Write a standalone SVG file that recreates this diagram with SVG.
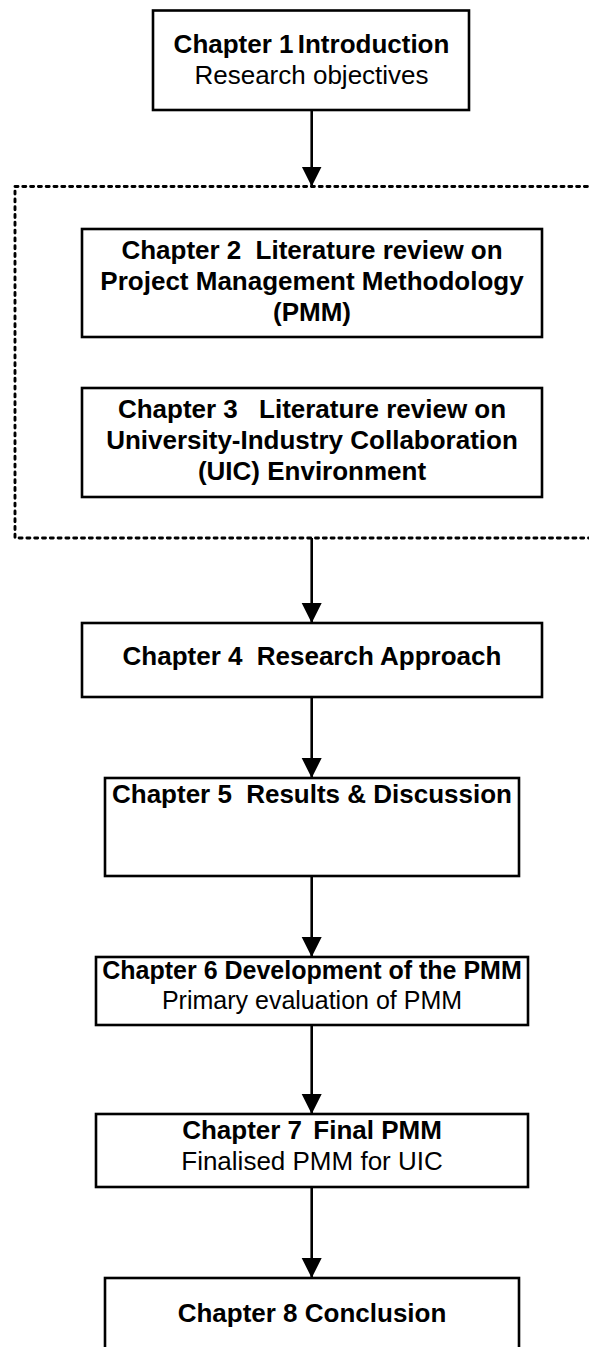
<svg xmlns="http://www.w3.org/2000/svg" width="589" height="1347" viewBox="0 0 589 1347">
  <style>
    .box { fill: #ffffff; stroke: #000000; stroke-width: 2.6; }
    .group { fill: none; stroke: #000000; stroke-width: 2.9; stroke-dasharray: 3 4.8; stroke-linecap: round; }
    .link { stroke: #000000; stroke-width: 2.6; fill: none; }
    .t { font-family: "Liberation Sans", Arial, sans-serif; font-size: 26px; fill: #000000; text-anchor: middle; }
    .b { font-weight: bold; }
    .s { font-size: 25px; }
  </style>
  <defs>
    <marker id="arrow" viewBox="0 0 20 21" refX="20" refY="10" markerWidth="20" markerHeight="21" markerUnits="userSpaceOnUse" orient="auto">
      <path d="M0,0 L20,10 L0,20 Z" fill="#000000"/>
    </marker>
  </defs>
  <rect width="589" height="1347" fill="#ffffff"/>

  <!-- literature review grouping (dashed) -->
  <rect id="lit-group" class="group" x="15" y="186.5" width="600" height="351.5"/>

  <g id="connectors">
    <line class="link" x1="311.7" y1="110" x2="311.7" y2="186.5" marker-end="url(#arrow)"/>
    <line class="link" x1="311.7" y1="538" x2="311.7" y2="623" marker-end="url(#arrow)"/>
    <line class="link" x1="311.7" y1="697" x2="311.7" y2="778" marker-end="url(#arrow)"/>
    <line class="link" x1="311.7" y1="876" x2="311.7" y2="957" marker-end="url(#arrow)"/>
    <line class="link" x1="311.7" y1="1025" x2="311.7" y2="1114" marker-end="url(#arrow)"/>
    <line class="link" x1="311.7" y1="1187" x2="311.7" y2="1278" marker-end="url(#arrow)"/>
  </g>

  <g id="ch1">
    <rect class="box" x="153" y="10.5" width="316" height="99.5"/>
    <text class="t b" x="311.5" y="53">Chapter 1<tspan dx="-3"> Introduction</tspan></text>
    <text class="t" x="311.5" y="84">Research objectives</text>
  </g>

  <g id="ch2">
    <rect class="box" x="82" y="229" width="460" height="108"/>
    <text class="t b" x="312" y="259">Chapter 2<tspan dx="7"> Literature review on</tspan></text>
    <text class="t b" x="312" y="290">Project Management Methodology</text>
    <text class="t b" x="312" y="321">(PMM)</text>
  </g>

  <g id="ch3">
    <rect class="box" x="82" y="388" width="460" height="109"/>
    <text class="t b" x="312" y="418">Chapter 3<tspan dx="14"> Literature review on</tspan></text>
    <text class="t b" x="312" y="449">University-Industry Collaboration</text>
    <text class="t b" x="312" y="480">(UIC) Environment</text>
  </g>

  <g id="ch4">
    <rect class="box" x="82" y="623" width="460" height="74"/>
    <text class="t b" x="312" y="665">Chapter 4<tspan dx="7"> Research Approach</tspan></text>
  </g>

  <g id="ch5">
    <rect class="box" x="105" y="778" width="414" height="98"/>
    <text class="t b" x="312" y="803">Chapter 5<tspan dx="7"> Results &amp; Discussion</tspan></text>
  </g>

  <g id="ch6">
    <rect class="box" x="96" y="957" width="432" height="68"/>
    <text class="t b s" x="312" y="979">Chapter 6 Development of the PMM</text>
    <text class="t s" x="312" y="1009">Primary evaluation of PMM</text>
  </g>

  <g id="ch7">
    <rect class="box" x="96" y="1114" width="432" height="73"/>
    <text class="t b" x="312" y="1139">Chapter 7<tspan dx="4"> Final PMM</tspan></text>
    <text class="t" x="312" y="1170">Finalised PMM for UIC</text>
  </g>

  <g id="ch8">
    <rect class="box" x="105" y="1278" width="414" height="100"/>
    <text class="t b" x="312" y="1322">Chapter 8 Conclusion</text>
  </g>
</svg>
